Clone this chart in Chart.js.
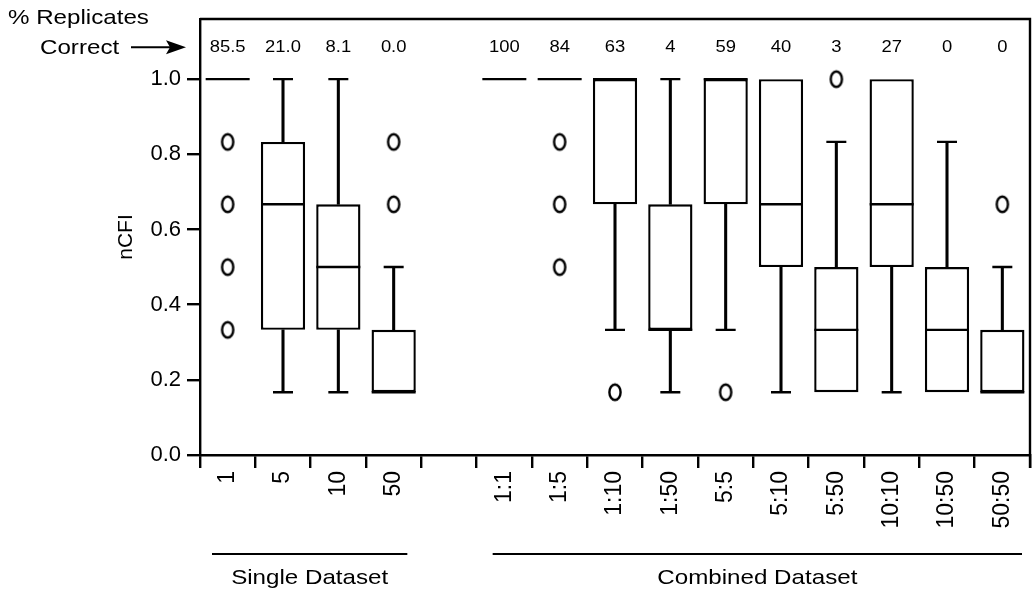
<!DOCTYPE html>
<html>
<head>
<meta charset="utf-8">
<title>nCFI by dataset</title>
<script src="https://cdn.jsdelivr.net/npm/chart.js@4.4.1/dist/chart.umd.min.js"></script>
<style>
  html, body { margin: 0; padding: 0; background: #fff; overflow: hidden; }
  #wrap { width: 1032px; height: 593px; position: relative; }
</style>
</head>
<body>
<div id="wrap"><canvas id="chart"></canvas></div>
<script>
'use strict';

// x categories; the blank one is the gap between the two groups
const categories = ['1', '5', '10', '50', '', '1:1', '1:5', '1:10', '1:50', '5:5', '5:10', '5:50', '10:10', '10:50', '50:50'];
const pctCorrect = ['85.5', '21.0', '8.1', '0.0', '', '100', '84', '63', '4', '59', '40', '3', '27', '0', '0'];
const yTicks = [0, 0.2, 0.4, 0.6, 0.8, 1.0];

// box summaries (null = nothing drawn)
const whiskerLow  = [null, 0.167, 0.167, null, null, null, null, 0.333, 0.167, 0.333, 0.167, null, 0.167, null, null];
const q1          = [1.0, 0.333, 0.333, 0.167, null, 1.0, 1.0, 0.667, 0.333, 0.667, 0.5, 0.167, 0.5, 0.167, 0.167];
const median      = [1.0, 0.667, 0.5, 0.167, null, 1.0, 1.0, 1.0, 0.333, 1.0, 0.667, 0.333, 0.667, 0.333, 0.167];
const q3          = [1.0, 0.833, 0.667, 0.333, null, 1.0, 1.0, 1.0, 0.667, 1.0, 1.0, 0.5, 1.0, 0.5, 0.333];
const whiskerHigh = [null, 1.0, 1.0, 0.5, null, null, null, null, 1.0, null, null, 0.833, null, 0.833, 0.5];
const outliers = [
  [0.833, 0.667, 0.5, 0.333], [], [], [0.833, 0.667], [],
  [], [0.833, 0.667, 0.5], [0.167], [], [0.167], [], [1.0], [], [], [0.667]
];

const groupNames = ['Single Dataset', 'Combined Dataset'];
const groupFirst = ['1', '1:1'];
const groupLast = ['50', '50:50'];

const FONT = '"Liberation Sans", Arial, Helvetica, sans-serif';
const PCT_LEVEL = 1.085;
const LW = 2.4;
const GROUP_INSET = [[12, 14], [16, 8]];

// outlier marker: a small upright ellipse
function ellipseMarker() {
  const c = document.createElement('canvas');
  c.width = 16; c.height = 21;
  const g = c.getContext('2d');
  g.lineWidth = 2.4;
  g.strokeStyle = '#000';
  g.beginPath();
  g.ellipse(8, 10.5, 5.6, 7.8, 0, 0, Math.PI * 2);
  g.stroke();
  return c;
}

const capPoints = [];
categories.forEach((c, i) => {
  if (whiskerLow[i] != null) capPoints.push({ x: c, y: whiskerLow[i] });
  if (whiskerHigh[i] != null) capPoints.push({ x: c, y: whiskerHigh[i] });
});
const medianPoints = [];
categories.forEach((c, i) => { if (median[i] != null) medianPoints.push({ x: c, y: median[i] }); });
const outlierPoints = [];
categories.forEach((c, i) => outliers[i].forEach(v => outlierPoints.push({ x: c, y: v })));

// text drawn a touch wider, as in the original figure
function wideText(ctx, text, x, y, size, align) {
  ctx.save();
  ctx.font = size + 'px ' + FONT;
  ctx.fillStyle = '#000';
  ctx.textAlign = align || 'center';
  ctx.textBaseline = 'middle';
  ctx.translate(x, y);
  ctx.scale(1.15, 1);
  ctx.fillText(text, 0, 0);
  ctx.restore();
}

const decorations = {
  id: 'decorations',
  afterDraw(chart) {
    const { ctx, chartArea: a, scales: { x, y } } = chart;
    ctx.save();
    ctx.strokeStyle = '#000';
    ctx.lineWidth = LW;
    // top and right sides of the frame
    ctx.beginPath();
    ctx.moveTo(a.left, a.top);
    ctx.lineTo(a.right, a.top);
    ctx.lineTo(a.right, a.bottom + 13);
    ctx.stroke();

    // % correct row
    const py = y.getPixelForValue(PCT_LEVEL);
    pctCorrect.forEach((t, i) => { if (t) wideText(ctx, t, x.getPixelForValue(i), py, 16); });

    // left annotation with arrow
    wideText(ctx, '% Replicates', 8, 18, 21, 'left');
    wideText(ctx, 'Correct', 40, py + 1, 21, 'left');
    ctx.lineWidth = 2;
    ctx.beginPath();
    ctx.moveTo(131, py);
    ctx.lineTo(172, py);
    ctx.stroke();
    ctx.beginPath();
    ctx.moveTo(186, py);
    ctx.lineTo(166, py - 7);
    ctx.lineTo(170, py);
    ctx.lineTo(166, py + 7);
    ctx.closePath();
    ctx.fillStyle = '#000';
    ctx.fill();

    // group brackets under the axis
    const half = (x.getPixelForValue(1) - x.getPixelForValue(0)) / 2;
    groupNames.forEach((name, k) => {
      const x0 = x.getPixelForValue(categories.indexOf(groupFirst[k])) - half + GROUP_INSET[k][0];
      const x1 = x.getPixelForValue(categories.indexOf(groupLast[k])) + half - GROUP_INSET[k][1];
      ctx.lineWidth = 2;
      ctx.beginPath();
      ctx.moveTo(x0, 554);
      ctx.lineTo(x1, 554);
      ctx.stroke();
      wideText(ctx, name, (x0 + x1) / 2, 578, 21);
    });
    ctx.restore();
  }
};

new Chart(document.getElementById('chart'), {
  type: 'bar',
  data: {
    labels: categories,
    datasets: [
      {
        label: 'box',
        data: categories.map((c, i) => (q1[i] == null ? null : [q1[i], q3[i]])),
        backgroundColor: '#fff',
        borderColor: '#000',
        borderWidth: LW,
        borderSkipped: false,
        barPercentage: 0.8,
        categoryPercentage: 1,
        grouped: false,
        order: 3
      },
      {
        label: 'lower whisker',
        data: categories.map((c, i) => (whiskerLow[i] == null ? null : [whiskerLow[i], q1[i]])),
        backgroundColor: '#000',
        barThickness: LW,
        grouped: false,
        order: 4
      },
      {
        label: 'upper whisker',
        data: categories.map((c, i) => (whiskerHigh[i] == null ? null : [q3[i], whiskerHigh[i]])),
        backgroundColor: '#000',
        barThickness: LW,
        grouped: false,
        order: 4
      },
      {
        type: 'line',
        label: 'caps',
        data: capPoints,
        showLine: false,
        pointStyle: 'line',
        pointRadius: 10,
        pointBorderWidth: LW,
        pointBorderColor: '#000',
        order: 2
      },
      {
        type: 'line',
        label: 'median',
        data: medianPoints,
        showLine: false,
        pointStyle: 'line',
        pointRadius: 22,
        pointBorderWidth: LW,
        pointBorderColor: '#000',
        order: 1
      },
      {
        type: 'line',
        label: 'outliers',
        data: outlierPoints,
        showLine: false,
        pointStyle: ellipseMarker(),
        order: 0
      }
    ]
  },
  options: {
    responsive: true,
    maintainAspectRatio: false,
    animation: false,
    events: [],
    layout: { autoPadding: false, padding: { left: 110, top: 19, right: 2, bottom: 0 } },
    plugins: { legend: { display: false }, tooltip: { enabled: false } },
    scales: {
      x: {
        type: 'category',
        offset: true,
        grid: { offset: true, drawOnChartArea: false, color: '#000', lineWidth: LW, tickLength: 13 },
        border: { color: '#000', width: LW },
        ticks: { color: '#000', font: { family: FONT, size: 23 }, minRotation: 90, maxRotation: 90, autoSkip: false, padding: 3 },
        afterFit(s) { s.height = 138; s.paddingLeft = 0; s.paddingRight = 0; }
      },
      y: {
        min: 0,
        max: 1.16,
        afterBuildTicks(s) { s.ticks = yTicks.map(v => ({ value: v })); },
        grid: { drawOnChartArea: false, color: '#000', lineWidth: LW, tickLength: 13 },
        border: { color: '#000', width: LW },
        ticks: { color: '#000', font: { family: FONT, size: 22 }, padding: 6, callback: v => v.toFixed(1) },
        title: { display: true, text: 'nCFI', color: '#000', font: { family: FONT, size: 21 }, padding: { top: 4, bottom: 4 } },
        afterFit(s) { s.width = 90; s.paddingTop = 0; s.paddingBottom = 0; }
      }
    }
  },
  plugins: [decorations]
});
</script>
</body>
</html>
